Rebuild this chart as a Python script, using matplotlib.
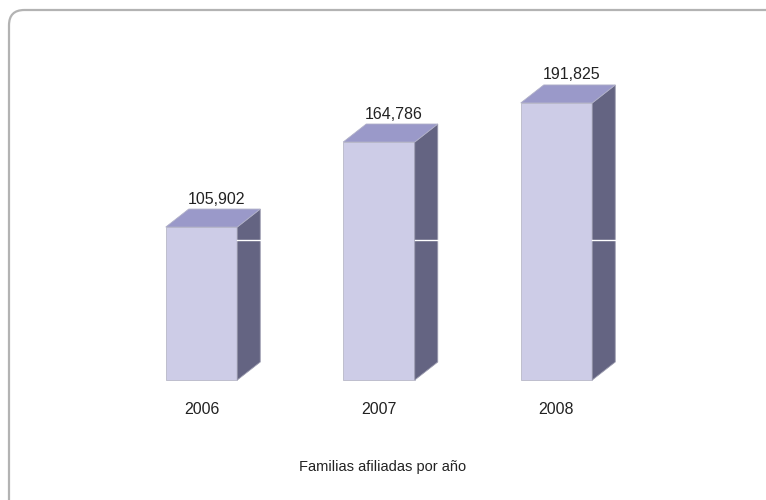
import matplotlib
matplotlib.use("Agg")
import matplotlib.pyplot as plt
from matplotlib.patches import Polygon, FancyBboxPatch
import matplotlib.font_manager as fm

years = ["2006", "2007", "2008"]
values = [105902, 164786, 191825]
value_labels = ["105,902", "164,786", "191,825"]
title = "Familias afiliadas por año"

names = {f.name for f in fm.fontManager.ttflist}
fam = ["Liberation Sans Narrow", "DejaVu Sans"] if "Liberation Sans Narrow" in names else ["Liberation Sans", "DejaVu Sans"]

W, H = 766, 500
fig = plt.figure(figsize=(W / 100, H / 100), dpi=100)
fig.patch.set_facecolor("white")

# frame
frame = FancyBboxPatch((9 / W, -0.1), (W + 40) / W, (H - 10) / H + 0.1,
                       boxstyle="round,pad=0,rounding_size=0.02",
                       transform=fig.transFigure, fill=False,
                       edgecolor="#b3b3b3", linewidth=1.6, mutation_aspect=W / H)
fig.patches.append(frame)

ax = fig.add_axes([0, 0, 1, 1])
ax.set_axis_off()
px_x = 177.5          # pixels per category
x0_px = 201.5         # pixel of first category center
px_val = 692.4        # value per pixel
base_px = 380
ax.set_xlim(-x0_px / px_x, (W - x0_px) / px_x)
ax.set_ylim(-(H - base_px) * px_val, base_px * px_val)

bw = 71.5 / px_x
dx = 23 / px_x
dy = 18 * px_val

front_c = "#cdcce7"
top_c = "#9a99c9"
side_c = "#646482"

for i, v in enumerate(values):
    l, r = i - bw / 2, i + bw / 2
    ax.add_patch(Polygon([(l, 0), (r, 0), (r, v), (l, v)], closed=True,
                         facecolor=front_c, edgecolor="#b8b8c8", linewidth=0.6))
    ax.add_patch(Polygon([(r, 0), (r + dx, dy), (r + dx, v + dy), (r, v)], closed=True,
                         facecolor=side_c, edgecolor="#9a9aae", linewidth=0.6))
    ax.add_patch(Polygon([(l, v), (r, v), (r + dx, v + dy), (l + dx, v + dy)], closed=True,
                         facecolor=top_c, edgecolor="#b0b0c8", linewidth=0.6))
    # gridline artifact on side
    gy = 140 * px_val
    ax.plot([r, r + dx], [gy, gy], color="white", linewidth=1.0)
    ax.text(i + dx / 2 + 0.02, v + dy + 2.5 * px_val, value_labels[i], ha="center", va="bottom",
            fontsize=11.5, color="#222222", family=fam)
    ax.text(i, -29 * px_val, years[i], ha="center", va="center",
            fontsize=11.5, color="#222222", family=fam)

fig.text(383 / W, 1 - 467.5 / H, title, ha="center", va="center",
         fontsize=10.5, color="#222222", family=fam)

fig.savefig("out.png", dpi=100)
